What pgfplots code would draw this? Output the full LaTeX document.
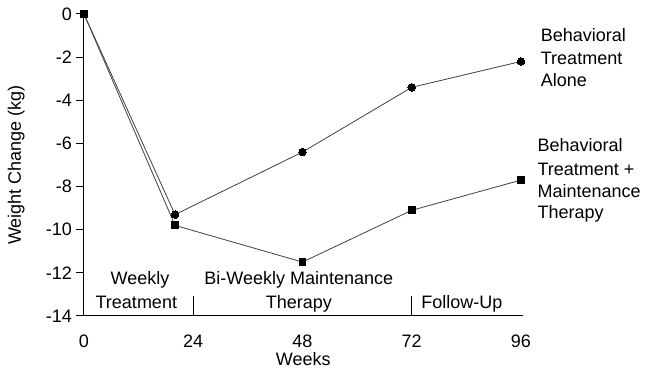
\documentclass[border=0pt]{standalone}
\usepackage{fontspec}
\setmainfont{Liberation Sans}
\usepackage{pgfplots}
\pgfplotsset{compat=1.18}

\begin{document}
\begin{tikzpicture}[font=\fontsize{18}{22.5}\selectfont]
\begin{axis}[
  scale only axis,
  width=440.2pt, height=302pt,
  xmin=-0.2, xmax=96.5, ymin=-14, ymax=0,
  axis x line*=bottom, axis y line*=left,
  axis line style={line width=1pt, black},
  xtick={0,24,48,72,96},
  ytick={-14,-12,-10,-8,-6,-4,-2,0},
  /pgf/number format/assume math mode=true,
  tick align=outside,
  x tick style={draw=none},
  y tick style={line width=1pt, black},
  major tick length=7pt,
  xticklabel style={anchor=north, inner sep=0pt, yshift=-12pt},
  yticklabel style={anchor=east, inner sep=0pt, xshift=-4pt},
  xlabel={Weeks},
  xlabel style={at={(axis description cs:0.5,0)}, anchor=north, inner sep=0pt, yshift=-36pt},
  ylabel={Weight Change (kg)},
  ylabel style={at={(axis description cs:-0.152,0.5)}, anchor=center},
  clip=false,
]
% behavioral treatment alone
\addplot[black!75, line width=0.8pt, mark=*, mark size=3.8pt,
  mark options={fill=black, draw=black, line width=0pt}]
  coordinates {(0,0) (20,-9.3) (48,-6.4) (72,-3.4) (96,-2.2)};
% behavioral treatment + maintenance therapy
\addplot[black!75, line width=0.8pt, mark=square*, mark size=3.4pt,
  mark options={fill=black, draw=black, line width=0pt}]
  coordinates {(0,0) (20,-9.8) (48,-11.5) (72,-9.1) (96,-7.7)};

% phase separators
\draw[line width=0.8pt, black] (axis cs:24,-14) -- (axis cs:24,-13.07);
\draw[line width=0.8pt, black] (axis cs:72,-14) -- (axis cs:72,-13.07);

% phase names
\node[anchor=base, inner sep=0pt] at (axis cs:12.3,-12.563) {Weekly};
\node[anchor=base, inner sep=0pt] at (axis cs:11.5,-13.63) {Treatment};
\node[anchor=base, inner sep=0pt] at (axis cs:47.2,-12.563) {Bi-Weekly Maintenance};
\node[anchor=base, inner sep=0pt] at (axis cs:47.2,-13.63) {Therapy};
\node[anchor=base, inner sep=0pt] at (axis cs:83.0,-13.63) {Follow-Up};

% series names
\node[anchor=base west, inner sep=0pt] at (axis cs:100.33,-1.298) {Behavioral};
\node[anchor=base west, inner sep=0pt] at (axis cs:100.33,-2.364) {Treatment};
\node[anchor=base west, inner sep=0pt] at (axis cs:100.33,-3.384) {Alone};
\node[anchor=base west, inner sep=0pt] at (axis cs:99.6,-6.397) {Behavioral};
\node[anchor=base west, inner sep=0pt] at (axis cs:99.6,-7.464) {Treatment +};
\node[anchor=base west, inner sep=0pt] at (axis cs:99.6,-8.484) {Maintenance};
\node[anchor=base west, inner sep=0pt] at (axis cs:99.6,-9.503) {Therapy};

% page frame
\path (axis cs:-18.45,0.649) rectangle (axis cs:123.24,-16.504);
\end{axis}
\end{tikzpicture}
\end{document}
